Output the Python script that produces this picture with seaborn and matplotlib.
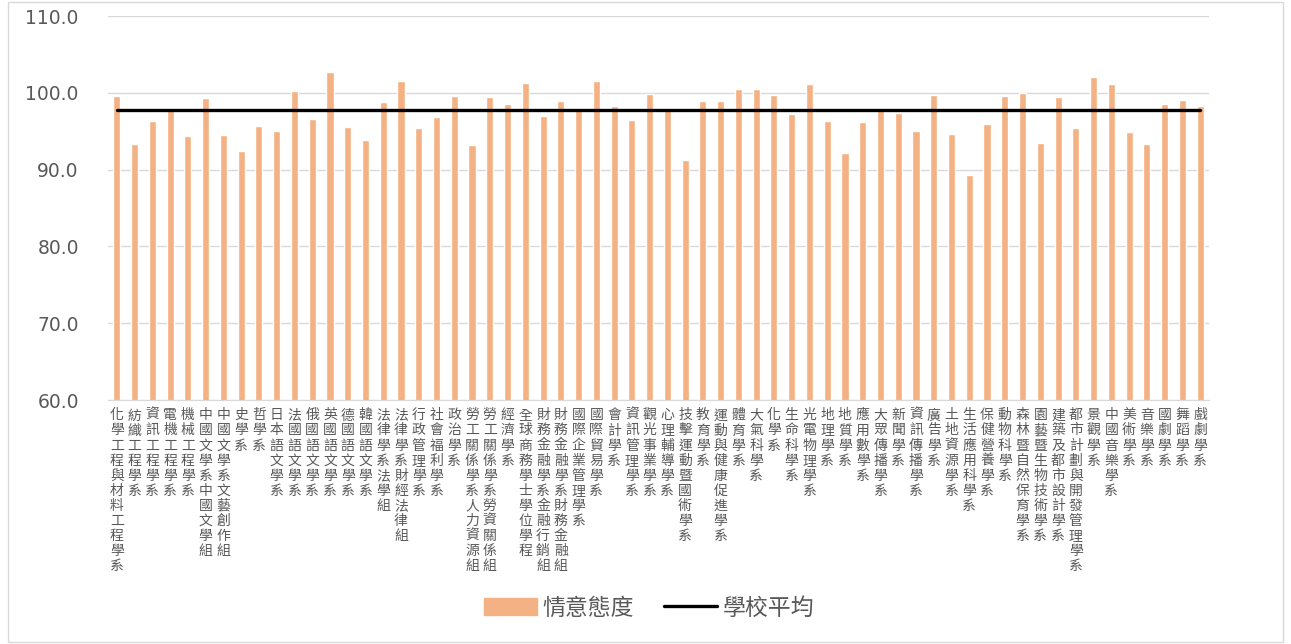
import matplotlib.pyplot as plt
import matplotlib.patches as mpatches
from matplotlib.lines import Line2D
import pandas as pd
import seaborn as sns

departments = [
    "化學工程與材料工程學系", "紡織工程學系", "資訊工程學系", "電機工程學系", "機械工程學系",
    "中國文學系中國文學組", "中國文學系文藝創作組", "史學系", "哲學系", "日本語文學系",
    "法國語文學系", "俄國語文學系", "英國語文學系", "德國語文學系", "韓國語文學系",
    "法律學系法學組", "法律學系財經法律組", "行政管理學系", "社會福利學系", "政治學系",
    "勞工關係學系人力資源組", "勞工關係學系勞資關係組", "經濟學系", "全球商務學士學位學程",
    "財務金融學系金融行銷組", "財務金融學系財務金融組", "國際企業管理學系", "國際貿易學系",
    "會計學系", "資訊管理學系", "觀光事業學系", "心理輔導學系", "技擊運動暨國術學系",
    "教育學系", "運動與健康促進學系", "體育學系", "大氣科學系", "化學系", "生命科學系",
    "光電物理學系", "地理學系", "地質學系", "應用數學系", "大眾傳播學系", "新聞學系",
    "資訊傳播學系", "廣告學系", "土地資源學系", "生活應用科學系", "保健營養學系",
    "動物科學系", "森林暨自然保育學系", "園藝暨生物技術學系", "建築及都市設計學系",
    "都市計劃與開發管理學系", "景觀學系", "中國音樂學系", "美術學系", "音樂學系",
    "國劇學系", "舞蹈學系", "戲劇學系",
]

attitude = [
    99.6, 93.3, 96.3, 97.7, 94.4, 99.3, 94.5, 92.4, 95.7, 95.0,
    100.2, 96.6, 102.7, 95.6, 93.8, 98.8, 101.6, 95.4, 96.8, 99.6,
    93.2, 99.4, 98.6, 101.3, 97.0, 98.9, 97.8, 101.5, 98.3, 96.5,
    99.8, 97.9, 91.3, 98.9, 98.9, 100.5, 100.5, 99.7, 97.2, 101.2,
    96.3, 92.1, 96.2, 97.7, 97.4, 95.0, 99.7, 94.6, 89.3, 96.0,
    99.6, 100.0, 93.4, 99.5, 95.4, 102.1, 101.2, 94.9, 93.3, 98.5,
    99.1, 98.3,
]

school_avg = 97.8

df = pd.DataFrame({"dept": departments, "value": attitude})
df["avg"] = school_avg
df["pos"] = range(len(df))

sns.set_style("white")
plt.rcParams["font.family"] = ["Noto Sans CJK TC", "DejaVu Sans"]

fig = plt.figure(figsize=(12.91, 6.44), dpi=100)
ax = fig.add_axes([108 / 1291, 1 - 400 / 644, (1209 - 108) / 1291, 384 / 644])

bar_color = "#F4B183"
sns.barplot(x="pos", y="value", data=df, color=bar_color, width=0.4,
            saturation=1, ax=ax, zorder=2)
sns.lineplot(x="pos", y="avg", data=df, color="black", linewidth=2.4,
             ax=ax, zorder=3)

ax.set_ylim(60, 110)
ax.set_xlim(-0.5, len(df) - 0.5)
ax.set_yticks([60, 70, 80, 90, 100, 110])
ax.set_yticklabels([f"{v:.1f}" for v in [60, 70, 80, 90, 100, 110]],
                   fontsize=13.5, color="#595959", family="DejaVu Sans")
ax.yaxis.grid(True, color="#D9D9D9", linewidth=1)
ax.set_axisbelow(True)

ax.set_xticks(range(len(df)))
ax.set_xticklabels(["\n".join(d) for d in departments], fontsize=10,
                   color="#595959", va="top", linespacing=1.1)
ax.tick_params(axis="x", length=0, pad=6)
ax.tick_params(axis="y", length=0, pad=21)
ax.set_xlabel("")
ax.set_ylabel("")

for s in ["top", "right", "left"]:
    ax.spines[s].set_visible(False)
ax.spines["bottom"].set_color("#D9D9D9")

# Legend
handles = [
    mpatches.Patch(color=bar_color, label="情意態度"),
    Line2D([0], [0], color="black", linewidth=2.4, label="學校平均"),
]
fig.legend(handles=handles, loc="center", bbox_to_anchor=(649 / 1291, 1 - 608 / 644),
           ncol=2, frameon=False, fontsize=16.5, handlelength=2.3,
           handleheight=0.7, columnspacing=1.3, handletextpad=0.25,
           labelcolor="#595959")

# Chart border
fig.patches.append(mpatches.Rectangle((8 / 1291, 0.003), 1 - 16 / 1291, 0.994,
                                      transform=fig.transFigure, fill=False,
                                      edgecolor="#D9D9D9", linewidth=1))

plt.savefig("out.png", dpi=100)
